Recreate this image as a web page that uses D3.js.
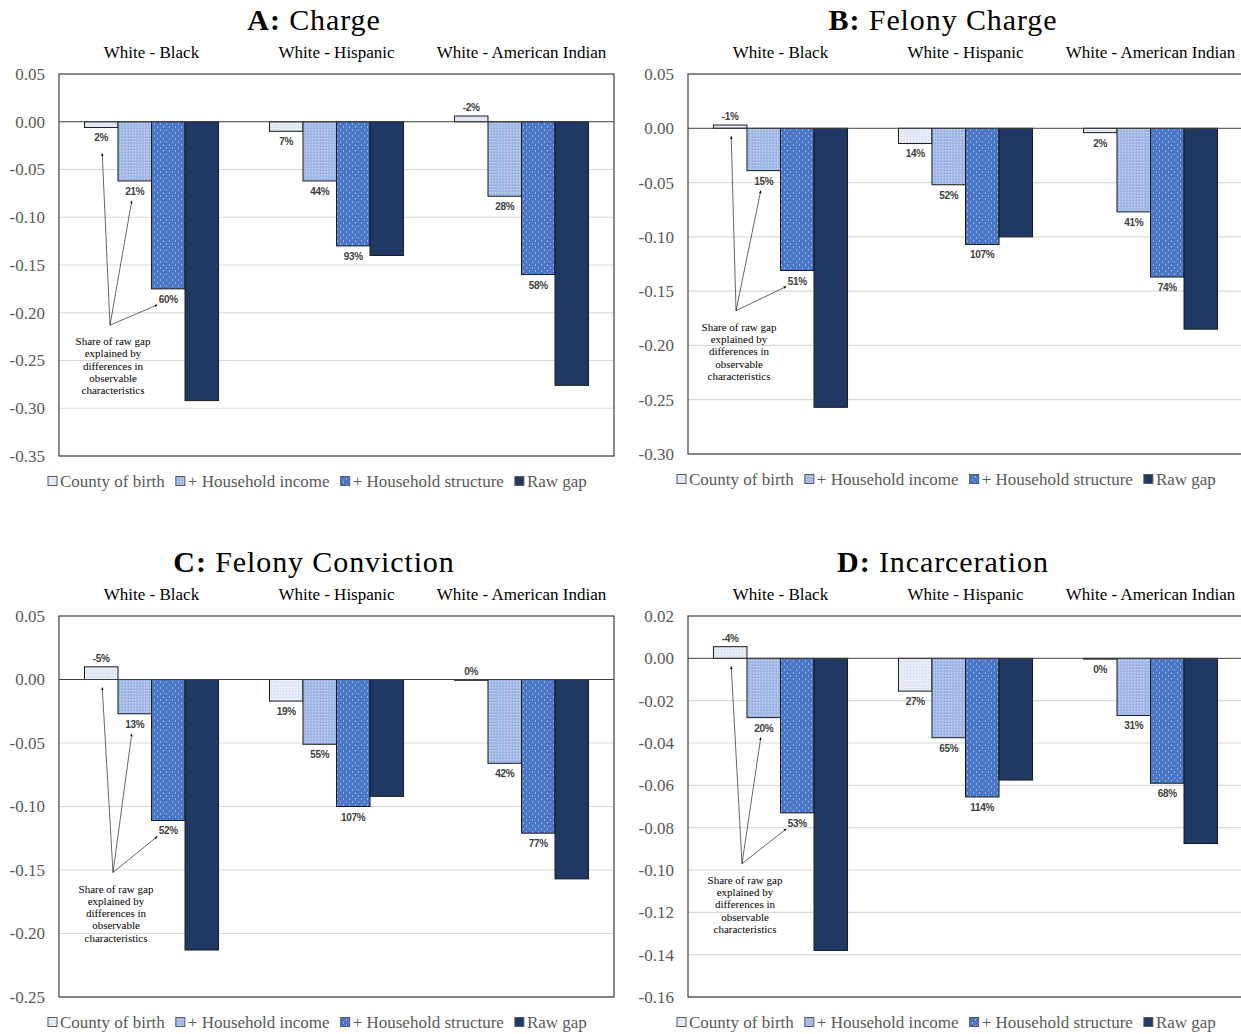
<!DOCTYPE html>
<html>
<head>
<meta charset="utf-8">
<script src="https://cdn.jsdelivr.net/npm/d3@7"></script>
<style>
  html, body { margin: 0; padding: 0; background: #fff; }
  svg { display: block; }
</style>
</head>
<body>
<svg id="chart" width="1241" height="1034"></svg>
<script>
// ---------------- DATA ----------------
const categories = ["White - Black", "White - Hispanic", "White - American Indian"];
const seriesNames = ["County of birth", "+ Household income", "+ Household structure", "Raw gap"];

// Panel A: Charge
const chargeCounty    = [-0.006, -0.010, 0.006];
const chargeIncome    = [-0.062, -0.062, -0.078];
const chargeStructure = [-0.175, -0.130, -0.160];
const chargeRaw       = [-0.292, -0.140, -0.276];
const chargeLblCounty    = ["2%", "7%", "-2%"];
const chargeLblIncome    = ["21%", "44%", "28%"];
const chargeLblStructure = ["60%", "93%", "58%"];
const chargeTicks = [0.05, 0.00, -0.05, -0.10, -0.15, -0.20, -0.25, -0.30, -0.35];
const chargeTickLabels = ["0.05", "0.00", "-0.05", "-0.10", "-0.15", "-0.20", "-0.25", "-0.30", "-0.35"];

// Panel B: Felony Charge
const felChargeCounty    = [0.003, -0.014, -0.004];
const felChargeIncome    = [-0.039, -0.052, -0.077];
const felChargeStructure = [-0.131, -0.107, -0.137];
const felChargeRaw       = [-0.257, -0.100, -0.185];
const felChargeLblCounty    = ["-1%", "14%", "2%"];
const felChargeLblIncome    = ["15%", "52%", "41%"];
const felChargeLblStructure = ["51%", "107%", "74%"];
const felChargeTicks = [0.05, 0.00, -0.05, -0.10, -0.15, -0.20, -0.25, -0.30];
const felChargeTickLabels = ["0.05", "0.00", "-0.05", "-0.10", "-0.15", "-0.20", "-0.25", "-0.30"];

// Panel C: Felony Conviction
const felConvCounty    = [0.010, -0.017, 0.000];
const felConvIncome    = [-0.027, -0.051, -0.066];
const felConvStructure = [-0.111, -0.100, -0.121];
const felConvRaw       = [-0.213, -0.092, -0.157];
const felConvLblCounty    = ["-5%", "19%", "0%"];
const felConvLblIncome    = ["13%", "55%", "42%"];
const felConvLblStructure = ["52%", "107%", "77%"];
const felConvTicks = [0.05, 0.00, -0.05, -0.10, -0.15, -0.20, -0.25];
const felConvTickLabels = ["0.05", "0.00", "-0.05", "-0.10", "-0.15", "-0.20", "-0.25"];

// Panel D: Incarceration
const incarCounty    = [0.0055, -0.0155, -0.0003];
const incarIncome    = [-0.028, -0.0375, -0.027];
const incarStructure = [-0.073, -0.0655, -0.059];
const incarRaw       = [-0.138, -0.0575, -0.0875];
const incarLblCounty    = ["-4%", "27%", "0%"];
const incarLblIncome    = ["20%", "65%", "31%"];
const incarLblStructure = ["53%", "114%", "68%"];
const incarTicks = [0.02, 0.00, -0.02, -0.04, -0.06, -0.08, -0.10, -0.12, -0.14, -0.16];
const incarTickLabels = ["0.02", "0.00", "-0.02", "-0.04", "-0.06", "-0.08", "-0.10", "-0.12", "-0.14", "-0.16"];

const annotationLines = ["Share of raw gap", "explained by", "differences in", "observable", "characteristics"];

// ---------------- PANEL CONFIG ----------------
const panels = [
  { letter: "A:", title: "Charge", x0: 59, top: 74, bottom: 456,
    series: [chargeCounty, chargeIncome, chargeStructure, chargeRaw],
    labels: [chargeLblCounty, chargeLblIncome, chargeLblStructure],
    ticks: chargeTicks, tickLabels: chargeTickLabels, annX: 51, annY: -0.213 },
  { letter: "B:", title: "Felony Charge", x0: 688, top: 74, bottom: 454,
    series: [felChargeCounty, felChargeIncome, felChargeStructure, felChargeRaw],
    labels: [felChargeLblCounty, felChargeLblIncome, felChargeLblStructure],
    ticks: felChargeTicks, tickLabels: felChargeTickLabels, annX: 48, annY: -0.168 },
  { letter: "C:", title: "Felony Conviction", x0: 59, top: 616, bottom: 997,
    series: [felConvCounty, felConvIncome, felConvStructure, felConvRaw],
    labels: [felConvLblCounty, felConvLblIncome, felConvLblStructure],
    ticks: felConvTicks, tickLabels: felConvTickLabels, annX: 54, annY: -0.152 },
  { letter: "D:", title: "Incarceration", x0: 688, top: 616, bottom: 997,
    series: [incarCounty, incarIncome, incarStructure, incarRaw],
    labels: [incarLblCounty, incarLblIncome, incarLblStructure],
    ticks: incarTicks, tickLabels: incarTickLabels, annX: 54, annY: -0.097 }
];

const plotWidth = 555;
const serif = "'Liberation Serif', 'Times New Roman', serif";
const sans = "'Liberation Sans', Arial, sans-serif";

const svg = d3.select("#chart");
const defs = svg.append("defs");

// Patterns
function makePatterns() {
  let p = defs.append("pattern").attr("id", "pCounty").attr("patternUnits", "userSpaceOnUse")
    .attr("width", 3).attr("height", 3);
  p.append("rect").attr("width", 3).attr("height", 3).attr("fill", "#e6ecf7");
  p.append("rect").attr("x", 1).attr("y", 1).attr("width", 1).attr("height", 1).attr("fill", "#c9d5ee");

  p = defs.append("pattern").attr("id", "pIncome").attr("patternUnits", "userSpaceOnUse")
    .attr("width", 3).attr("height", 3);
  p.append("rect").attr("width", 3).attr("height", 3).attr("fill", "#a3bbe6");
  p.append("rect").attr("x", 0).attr("y", 0).attr("width", 1).attr("height", 1).attr("fill", "#c6d5f0");
  p.append("rect").attr("x", 2).attr("y", 2).attr("width", 1).attr("height", 1).attr("fill", "#8eabdf");

  p = defs.append("pattern").attr("id", "pStructure").attr("patternUnits", "userSpaceOnUse")
    .attr("width", 6).attr("height", 6);
  p.append("rect").attr("width", 6).attr("height", 6).attr("fill", "#4a76c6");
  p.append("rect").attr("x", 1).attr("y", 0).attr("width", 1).attr("height", 2).attr("fill", "#8fb0ea");
  p.append("rect").attr("x", 4).attr("y", 3).attr("width", 1).attr("height", 2).attr("fill", "#8fb0ea");

  defs.append("marker").attr("id", "arrow").attr("viewBox", "0 0 10 10")
    .attr("refX", 9).attr("refY", 5).attr("markerWidth", 5).attr("markerHeight", 5)
    .attr("orient", "auto")
    .append("path").attr("d", "M0,1 L10,5 L0,9 Z").attr("fill", "#000");
}
makePatterns();

const fills = ["url(#pCounty)", "url(#pIncome)", "url(#pStructure)", "#1f3864"];

panels.forEach(pn => {
  const g = svg.append("g");
  const y = d3.scaleLinear()
    .domain([d3.min(pn.ticks), d3.max(pn.ticks)])
    .range([pn.bottom, pn.top]);
  const x = d3.scaleBand().domain(categories).range([pn.x0, pn.x0 + plotWidth]).paddingInner(0).paddingOuter(0);
  const xs = d3.scaleBand().domain(d3.range(seriesNames.length)).range([0, x.bandwidth()])
    .paddingInner(0).paddingOuter(0.76);

  // Gridlines
  g.append("g").selectAll("line").data(pn.ticks.filter(t => t !== 0 && t !== d3.max(pn.ticks)))
    .join("line")
    .attr("x1", pn.x0).attr("x2", pn.x0 + plotWidth)
    .attr("y1", d => y(d)).attr("y2", d => y(d))
    .attr("stroke", "#d9d9d9").attr("stroke-width", 1.2);

  // Y tick labels
  g.append("g").selectAll("text").data(pn.ticks)
    .join("text")
    .attr("x", pn.x0 - 14).attr("y", d => y(d))
    .attr("dy", "0.35em").attr("text-anchor", "end")
    .attr("font-family", serif).attr("font-size", 17).attr("fill", "#595959")
    .text((d, i) => pn.tickLabels[i]);

  // Bars
  pn.series.forEach((vals, si) => {
    g.append("g").selectAll("rect").data(vals)
      .join("rect")
      .attr("x", (d, i) => x(categories[i]) + xs(si))
      .attr("width", xs.bandwidth())
      .attr("y", d => Math.min(y(d), y(0)))
      .attr("height", d => Math.max(Math.abs(y(d) - y(0)), 0.8))
      .attr("fill", fills[si])
      .attr("stroke", "#1a1a1a").attr("stroke-width", 1);
  });

  // Zero line
  g.append("line").attr("x1", pn.x0).attr("x2", pn.x0 + plotWidth)
    .attr("y1", y(0)).attr("y2", y(0)).attr("stroke", "#404040").attr("stroke-width", 1);

  // Frame
  g.append("rect").attr("x", pn.x0).attr("y", pn.top).attr("width", plotWidth)
    .attr("height", pn.bottom - pn.top).attr("fill", "none")
    .attr("stroke", "#404040").attr("stroke-width", 1.2);

  // Data labels
  pn.labels.forEach((lbls, si) => {
    const vals = pn.series[si];
    g.append("g").selectAll("text").data(vals)
      .join("text")
      .attr("x", (d, i) => x(categories[i]) + xs(si) + xs.bandwidth() / 2)
      .attr("y", d => d >= 0 ? y(d) - 5 : y(d) + 14)
      .attr("text-anchor", "middle")
      .attr("font-family", sans).attr("font-size", 10).attr("font-weight", "bold")
      .attr("fill", "#404040").attr("letter-spacing", -0.3)
      .text((d, i) => lbls[i]);
  });

  // Title
  const title = g.append("text").attr("x", pn.x0 + 255).attr("y", pn.top - 44)
    .attr("text-anchor", "middle").attr("font-family", serif).attr("font-size", 30)
    .attr("letter-spacing", 0.9).attr("fill", "#000");
  title.append("tspan").attr("font-weight", "bold").text(pn.letter);
  title.append("tspan").text(" " + pn.title);

  // Group labels
  g.append("g").selectAll("text").data(categories)
    .join("text")
    .attr("x", d => x(d) + x.bandwidth() / 2).attr("y", pn.top - 16)
    .attr("text-anchor", "middle").attr("font-family", serif).attr("font-size", 17).attr("fill", "#000")
    .text(d => d);

  // Annotation
  const c0 = categories[0];
  const ax = pn.x0 + pn.annX, ay = y(pn.annY);
  const vC = pn.series[0][0], vI = pn.series[1][0], vS = pn.series[2][0];
  const tips = [
    [x(c0) + xs(0) + xs.bandwidth() / 2 + 1, vC < 0 ? y(vC) + 26 : y(0) + 8],
    [x(c0) + xs(1) + xs.bandwidth() / 2 - 3, y(vI) + 20],
    [x(c0) + xs(2) + xs.bandwidth() / 2 - 11, y(vS) + 16]
  ];
  g.append("g").selectAll("line").data(tips).join("line")
    .attr("x1", ax).attr("y1", ay).attr("x2", d => d[0]).attr("y2", d => d[1])
    .attr("stroke", "#000").attr("stroke-width", 0.6).attr("marker-end", "url(#arrow)");
  g.append("g").selectAll("text").data(annotationLines).join("text")
    .attr("x", ax + 3).attr("y", (d, i) => ay + 20 + i * 12.3)
    .attr("text-anchor", "middle").attr("font-family", serif).attr("font-size", 11).attr("fill", "#000")
    .text(d => d);

  // Legend
  const leg = g.append("g").attr("transform", `translate(${pn.x0 - 11},${pn.bottom + 25})`);
  let cx = 0;
  seriesNames.forEach((name, si) => {
    leg.append("rect").attr("x", cx).attr("y", -4.5).attr("width", 9).attr("height", 9)
      .attr("fill", fills[si]).attr("stroke", "#595959").attr("stroke-width", 1);
    const t = leg.append("text").attr("x", cx + 12).attr("y", 0).attr("dy", "0.35em")
      .attr("font-family", serif).attr("font-size", 17).attr("fill", "#595959").text(name);
    cx += 12 + t.node().getComputedTextLength() + 11;
  });
});
</script>
</body>
</html>
